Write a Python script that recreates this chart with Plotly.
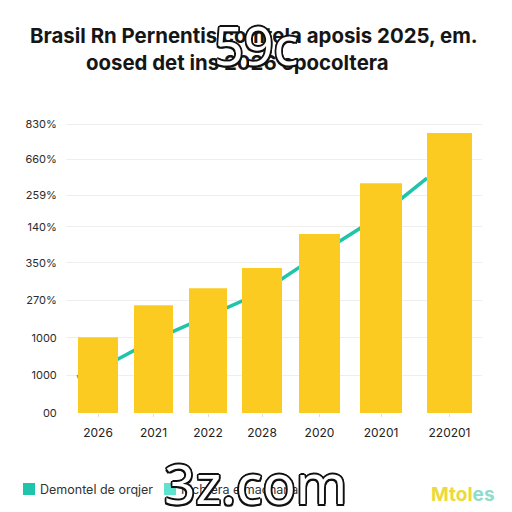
import plotly.graph_objects as go

# Chart values
years = ["2026", "2021", "2022", "2028", "2020", "20201", "220201"]
bar_pos = [32, 87.5, 142, 196, 253.5, 315, 383.5]
bar_widths = [40, 39, 38, 40, 41, 42, 45]
bar_values = [210, 299, 346, 402, 496, 637, 776]

line_pos = [11, 32, 87.5, 142, 196, 253.5, 315, 361]
line_values = [100, 120, 202, 269, 335, 441, 549, 651]

y_ticks = [0, 104, 208, 313, 416, 516, 604, 704, 801]
y_labels = ["00", "1000", "1000", "270%", "350%", "140%", "259%", "660%", "830%"]

legend_names = ["Demontel de orqjer", "Pichtera e macharia"]

TEAL = "#1fc4ab"
LIGHT_TEAL = "#5fe3cf"
YELLOW = "#fccb22"
FONT = "Inter, Liberation Sans, sans-serif"
OUTLINE = ("-1.5px -1.5px 0 #111, 1.5px -1.5px 0 #111, -1.5px 1.5px 0 #111, 1.5px 1.5px 0 #111, "
           "0 -1.8px 0 #111, 0 1.8px 0 #111, -1.8px 0 0 #111, 1.8px 0 0 #111")


def page_x(px):
    # page pixel to paper fraction of the plot area
    return (px - 66) / 416


def page_y(py):
    return (413 - py) / 300


fig = go.Figure()

# Line sits on the base axes so the bars (overlay axes) cover it
fig.add_trace(go.Scatter(
    x=line_pos, y=line_values, mode="lines", showlegend=False,
    line=dict(color=TEAL, width=3.5),
))
fig.add_trace(go.Bar(
    x=bar_pos, y=bar_values, width=bar_widths, marker_color=YELLOW,
    marker_line_width=0, showlegend=False, xaxis="x2", yaxis="y2",
))

x_range = [0, 416]
y_range = [0, 831.6]

# The page has an 8px body margin, so the figure is 504 wide and high
fig.update_layout(
    width=504, height=504,
    margin=dict(l=58, r=30, t=105, b=99),
    autosize=False,
    showlegend=False,
    paper_bgcolor="white", plot_bgcolor="white",
    font=dict(family=FONT, color="#2b2b2b", size=11),
    xaxis=dict(
        range=x_range, tickvals=bar_pos, ticktext=years, showgrid=False, zeroline=False,
        ticks="outside", ticklen=3, tickcolor="#dddddd", tickfont=dict(size=12, color="#222222"),
        showline=False, ticklabelstandoff=6,
    ),
    yaxis=dict(
        range=y_range, tickvals=y_ticks, ticktext=y_labels, gridcolor="#eeeeee", gridwidth=1,
        zeroline=False, showline=False, ticks="outside", ticklen=6, tickcolor="white",
        tickfont=dict(size=11, color="#2b2b2b"),
    ),
    xaxis2=dict(range=x_range, overlaying="x", visible=False),
    yaxis2=dict(range=y_range, overlaying="y", visible=False),
)

titles = [
    ("Brasil Rn Pernentis comtela aposis 2025, em.", 254, 35),
    ("oosed det ins 2026 epocoltera", 237, 62),
]
for text, px, py in titles:
    fig.add_annotation(
        text=f"<b>{text}</b>", x=page_x(px), y=page_y(py), xref="paper", yref="paper",
        showarrow=False, xanchor="center", yanchor="middle",
        font=dict(size=20.4, color="#161616", family=FONT),
    )

# Legend row
for name, colour, swatch_x in zip(legend_names, [TEAL, LIGHT_TEAL], [23, 164]):
    fig.add_shape(
        type="rect", xref="paper", yref="paper",
        x0=page_x(swatch_x), x1=page_x(swatch_x + 12), y0=page_y(495), y1=page_y(483),
        fillcolor=colour, line_width=0,
    )
    fig.add_annotation(
        text=name, x=page_x(swatch_x + 15), y=page_y(489), xref="paper", yref="paper",
        showarrow=False, xanchor="left", yanchor="middle",
        font=dict(size=12.5, color="#333333", family=FONT),
    )

fig.add_annotation(
    text='<b><span style="color:#ecd93a">Mtol</span><span style="color:#8fdccb">es</span></b>',
    x=page_x(463), y=page_y(494), xref="paper", yref="paper", showarrow=False,
    xanchor="center", yanchor="middle", font=dict(size=19, family=FONT),
)

# Outlined overlay marks
marks = [("59c", 256, 44, 52), ("3z.com", 255, 482, 55)]
for text, px, py, size in marks:
    fig.add_annotation(
        text=text, x=page_x(px), y=page_y(py), xref="paper", yref="paper",
        showarrow=False, xanchor="center", yanchor="middle",
        font=dict(size=size, color="white", family="Noto Sans, sans-serif", shadow=OUTLINE),
    )

fig.write_html("out.html")
